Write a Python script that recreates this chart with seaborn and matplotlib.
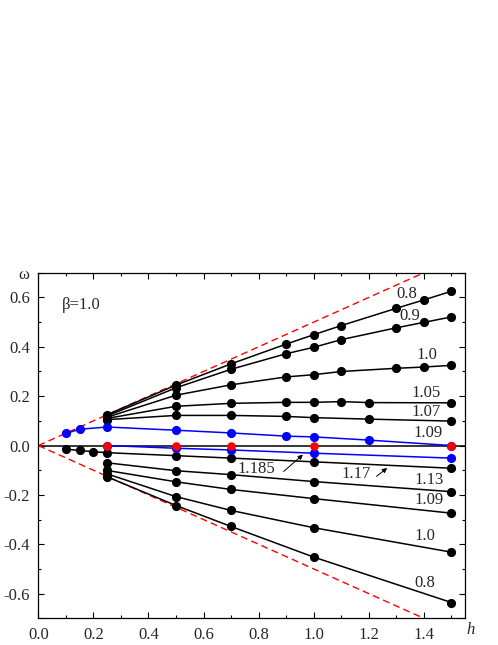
import numpy as np
import pandas as pd
import matplotlib
matplotlib.use("Agg")
import matplotlib.pyplot as plt
import seaborn as sns
from matplotlib.ticker import MultipleLocator

# ---------------- data ----------------
# upper branch (positive omega)
h_up_a = [0.25, 0.5, 0.7, 0.9, 1.0, 1.1, 1.3, 1.4, 1.5]
w_080_up = [0.125, 0.245, 0.331, 0.411, 0.449, 0.486, 0.556, 0.590, 0.625]
w_090_up = [0.120, 0.234, 0.309, 0.372, 0.398, 0.429, 0.477, 0.499, 0.521]
w_100_up = [0.115, 0.204, 0.246, 0.278, 0.287, 0.300, 0.313, 0.318, 0.325]
h_105 = [0.25, 0.5, 0.7, 0.9, 1.0, 1.1, 1.2, 1.5]
w_105 = [0.110, 0.159, 0.171, 0.175, 0.175, 0.178, 0.174, 0.173]
h_107 = [0.25, 0.5, 0.7, 0.9, 1.0, 1.2, 1.5]
w_107 = [0.105, 0.122, 0.122, 0.118, 0.113, 0.107, 0.099]
h_109_up = [0.1, 0.15, 0.25, 0.5, 0.7, 0.9, 1.0, 1.2, 1.5]
w_109_up = [0.049, 0.066, 0.075, 0.062, 0.051, 0.038, 0.035, 0.022, 0.0]

# lower branch (negative omega)
h_1185 = [0.25, 0.5, 0.7, 1.0, 1.5]
w_1185 = [0.0, -0.011, -0.018, -0.031, -0.051]
h_117 = [0.1, 0.15, 0.2, 0.25, 0.5, 0.7, 1.0, 1.5]
w_117 = [-0.015, -0.020, -0.025, -0.029, -0.041, -0.051, -0.066, -0.092]
h_low = [0.25, 0.5, 0.7, 1.0, 1.5]
w_113 = [-0.070, -0.102, -0.118, -0.146, -0.187]
w_109_lo = [-0.101, -0.147, -0.178, -0.215, -0.274]
w_100_lo = [-0.115, -0.207, -0.263, -0.333, -0.432]
w_080_lo = [-0.127, -0.243, -0.328, -0.452, -0.636]

# red points (omega = 0)
h_red = [0.25, 0.5, 0.7, 1.0, 1.5]
w_red = [0.0, 0.0, 0.0, 0.0, 0.0]

# dashed envelopes
env_h = [0.0, 1.4]
env_up = [0.0, 0.7]
env_lo = [0.0, -0.7]

# labels
lab_text = ["0.8", "0.9", "1.0", "1.05", "1.07", "1.09",
            "1.185", "1.17", "1.13", "1.09", "1.0", "0.8"]
lab_h = [1.34, 1.35, 1.41, 1.41, 1.41, 1.415,
         0.79, 1.155, 1.418, 1.418, 1.405, 1.404]
lab_w = [0.615, 0.526, 0.366, 0.211, 0.135, 0.051,
         -0.095, -0.115, -0.138, -0.222, -0.367, -0.558]

# ---------------- style ----------------
sns.set_style("ticks")
plt.rcParams['font.family'] = ['Liberation Serif', 'DejaVu Serif']
FS = 12

fig = plt.figure(figsize=(4.98, 6.45), dpi=100)
ax = fig.add_axes([0.077, 0.0414, 0.857, 0.5357])

mk = dict(marker='o', markersize=6.6, markeredgewidth=0, linewidth=1.1)

ax.axhline(0, color='black', lw=1.1, zorder=1)

black_curves = [(h_up_a, w_080_up), (h_up_a, w_090_up), (h_up_a, w_100_up),
                (h_105, w_105), (h_107, w_107),
                (h_117, w_117), (h_low, w_113), (h_low, w_109_lo),
                (h_low, w_100_lo), (h_low, w_080_lo)]
for hh, ww in black_curves:
    sns.lineplot(x=hh, y=ww, ax=ax, color='black', sort=False,
                 estimator=None, zorder=3, **mk)

for hh, ww in [(h_109_up, w_109_up), (h_1185, w_1185)]:
    sns.lineplot(x=hh, y=ww, ax=ax, color='#0000ff', sort=False,
                 estimator=None, zorder=4, **mk)

sns.scatterplot(x=h_red, y=w_red, ax=ax, color='#ff0000', s=38,
                linewidth=0, zorder=5)

for yy in (env_up, env_lo):
    sns.lineplot(x=env_h, y=yy, ax=ax, color='#ff0000', lw=1.0,
                 linestyle=(0, (5, 3)), zorder=2)

for t, x, y in zip(lab_text, lab_h, lab_w):
    ax.text(x, y, t, fontsize=FS, ha='center', va='center', zorder=6)

arrow_kw = dict(arrowstyle='-|>', color='black', lw=0.7,
                mutation_scale=7, shrinkA=0, shrinkB=0)
ax.annotate('', xy=(0.961, -0.037), xytext=(0.891, -0.105),
            arrowprops=arrow_kw)
ax.annotate('', xy=(1.267, -0.091), xytext=(1.228, -0.125),
            arrowprops=arrow_kw)

ax.text(0.085, 0.569, "β=1.0", fontsize=FS, ha='left', va='center')

ax.set_xlim(0, 1.55)
ax.set_ylim(-0.7, 0.7)
ax.xaxis.set_minor_locator(MultipleLocator(0.1))
ax.yaxis.set_minor_locator(MultipleLocator(0.1))
xt = np.arange(0, 1.41, 0.2)
ax.set_xticks(xt)
ax.set_xticklabels([f"{v:.1f}" for v in xt])
yt = np.arange(-0.6, 0.61, 0.2)
ax.set_yticks(yt)
ax.set_yticklabels([f"{v:.1f}".replace("-0.0", "0.0") for v in yt])
ax.tick_params(which='both', direction='in', top=True, right=True,
               labelsize=FS, width=0.8, color='black')
ax.tick_params(which='major', length=4.5)
ax.tick_params(which='minor', length=2.2)
ax.tick_params(axis='x', pad=6)
ax.tick_params(axis='y', pad=6)
for s in ax.spines.values():
    s.set_linewidth(0.9)
    s.set_color('black')
ax.set_xlabel("")
ax.set_ylabel("")
ax.text(-0.035, 0.993, "ω", transform=ax.transAxes, fontsize=FS,
        ha='center', va='center')
ax.text(1.012, -0.034, "h", transform=ax.transAxes, fontsize=FS,
        ha='center', va='center', style='italic')
if ax.get_legend() is not None:
    ax.get_legend().remove()

fig.savefig("out.png", dpi=100)
